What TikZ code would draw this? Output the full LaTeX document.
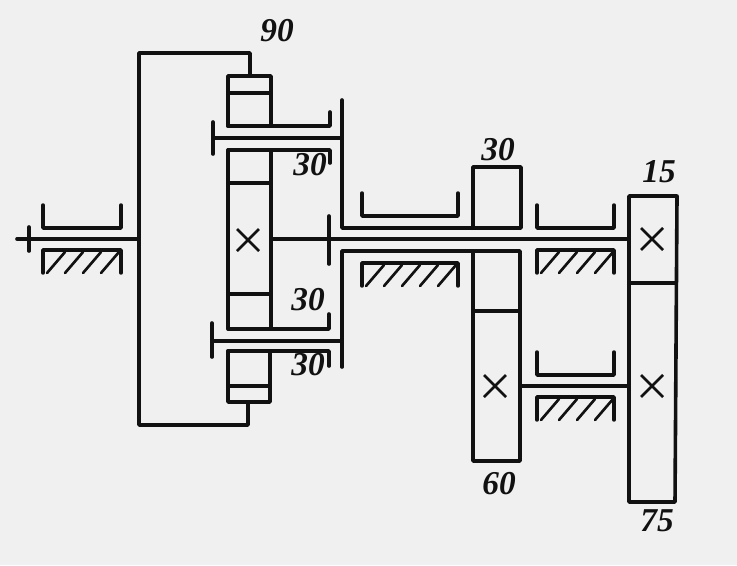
\documentclass[tikz,border=0pt]{standalone}
\usepackage{fontspec}
\setmainfont{Liberation Serif}
\definecolor{paper}{HTML}{F0F0F0}
\definecolor{ink}{HTML}{111111}
\tikzset{
  heavyline/.style={draw=ink,line width=2.7pt,line cap=round,line join=round},
  mediumline/.style={draw=ink,line width=2.6pt,line cap=round,line join=round},
  hatchline/.style={draw=ink,line width=2pt,line cap=round},
  crossline/.style={draw=ink,line width=2pt},
  num/.style={text=ink,font=\fontsize{25}{25}\selectfont\bfseries\itshape,inner sep=0pt},
}
\newcommand{\cupbearing}[3]{% x1, x2, y of the cup floor
  \draw[mediumline] (#1,#3-23) -- (#1,#3) -- (#2,#3) -- (#2,#3-23);}
\newcommand{\hatchbearing}[4]{% x1, x2, y of the top, number of strokes minus one
  \draw[mediumline] (#1,#3+23) -- (#1,#3) -- (#2,#3) -- (#2,#3+23);
  \foreach \k in {0,...,#4}{
    \draw[hatchline] ({#1+4+\k*18},#3+23) -- ++(18,-21);}
}
\newcommand{\crossmark}[2]{%
  \draw[crossline] (#1-11,#2-11) -- (#1+11,#2+11) (#1-11,#2+11) -- (#1+11,#2-11);}
\begin{document}
\begin{tikzpicture}[x=0.75pt,y=-0.75pt]
\useasboundingbox[fill=paper] (0,0) rectangle (737,565);
% input shaft and cage
\draw[heavyline] (17,239) -- (139,239);
\draw[heavyline] (29,227) -- (29,251);
\cupbearing{43}{121}{228}
\hatchbearing{43}{121}{250}{3}
\draw[heavyline] (250,76) -- (250,53) -- (139,53) -- (139,425) -- (248,425) -- (248,402);
% ring segments
\draw[heavyline] (228,126) -- (228,76) -- (271,76) -- (271,126);
\draw[mediumline] (228,93) -- (271,93);
\draw[heavyline] (228,351) -- (228,402) -- (270,402) -- (270,351);
\draw[mediumline] (228,386) -- (270,386);
% central gear
\draw[heavyline] (228,150) rectangle (271,329);
\draw[mediumline] (228,183) -- (271,183);
\draw[mediumline] (228,294) -- (271,294);
\crossmark{248}{240}
% planet bearings and carrier
\draw[heavyline] (228,126) -- (330,126) -- (330,112);
\draw[heavyline] (228,150) -- (330,150) -- (330,163);
\draw[heavyline] (228,329) -- (329,329) -- (329,314);
\draw[heavyline] (228,351) -- (329,351) -- (329,366);
\draw[heavyline] (213,138) -- (342,138);
\draw[heavyline] (213,122) -- (213,154);
\draw[heavyline] (212,341) -- (342,341);
\draw[heavyline] (212,323) -- (212,357);
% main shaft
\draw[heavyline] (272,239) -- (628,239);
\draw[heavyline] (329,216) -- (329,264);
\draw[heavyline] (342,100) -- (342,228) -- (473,228);
\draw[heavyline] (342,367) -- (342,251) -- (473,251);
% bearings on main shaft
\cupbearing{362}{458}{216}
\hatchbearing{362}{458}{263}{4}
\cupbearing{537}{614}{228}
\hatchbearing{537}{614}{250}{3}
% gear pair
\draw[heavyline] (473,228) -- (473,167) -- (521,167) -- (521,228) -- cycle;
\draw[heavyline] (473,251) rectangle (520,461);
\draw[mediumline] (473,311) -- (520,311);
\crossmark{495}{386}
% output gears
\draw[heavyline] (629,196) -- (677,196) -- (675,502) -- (629,502) -- cycle;
\draw[heavyline] (629,283) -- (676,283);
\crossmark{652}{239}
\crossmark{652}{386}
% counter shaft
\draw[mediumline] (521,386) -- (629,386);
\cupbearing{537}{614}{375}
\hatchbearing{537}{614}{397}{3}
% labels
\node[num] (n90) at (277,31) {90};
\node[num] (n30a) at (310,165) {30};
\node[num] (n30b) at (308,300) {30};
\node[num] (n30c) at (308,365) {30};
\node[num] (n30d) at (498,150) {30};
\node[num] (n15) at (659,172) {15};
\node[num] (n60) at (499,484) {60};
\node[num] (n75) at (657,521) {75};
\end{tikzpicture}
\end{document}
